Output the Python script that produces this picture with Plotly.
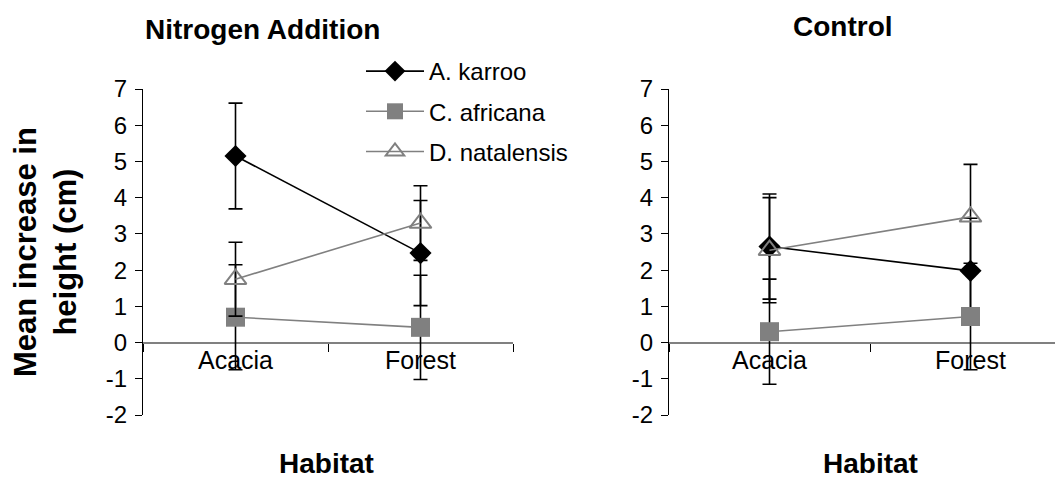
import plotly.graph_objects as go

# ---------------- data ----------------
habitats = ["Acacia", "Forest"]
species = ["A. karroo", "C. africana", "D. natalensis"]

nitrogen_means = {
    "A. karroo": [5.15, 2.47],
    "C. africana": [0.70, 0.42],
    "D. natalensis": [1.75, 3.30],
}
nitrogen_err = {
    "A. karroo": [1.46, 1.45],
    "C. africana": [1.45, 1.44],
    "D. natalensis": [1.02, 1.03],
}
control_means = {
    "A. karroo": [2.65, 1.98],
    "C. africana": [0.30, 0.72],
    "D. natalensis": [2.55, 3.47],
}
control_err = {
    "A. karroo": [1.45, 1.45],
    "C. africana": [1.45, 1.47],
    "D. natalensis": [1.45, 1.45],
}
y_ticks = [-2, -1, 0, 1, 2, 3, 4, 5, 6, 7]
y_tick_text = ["-2", "-1", "0", "1", "2", "3", "4", "5", "6", "7"]

# ---------------- styles ----------------
FONT = "Arial, Liberation Sans, sans-serif"
GRAY = "#808080"
styles = {
    "A. karroo": dict(line=dict(color="black", width=1.6),
                      marker=dict(symbol="diamond", size=17, color="black")),
    "C. africana": dict(line=dict(color=GRAY, width=1.6),
                        marker=dict(symbol="square", size=19, color=GRAY)),
    "D. natalensis": dict(line=dict(color=GRAY, width=1.6),
                          marker=dict(symbol="triangle-up-open", size=19, color=GRAY,
                                      line=dict(color=GRAY, width=2))),
}

fig = go.Figure()

panels = [("x", "y", nitrogen_means, nitrogen_err, True),
          ("x2", "y2", control_means, control_err, False)]
for xa, ya, means, errs, show in panels:
    for sp in species:
        st = styles[sp]
        fig.add_trace(go.Scatter(
            x=habitats, y=means[sp], name=sp, mode="lines+markers",
            xaxis=xa, yaxis=ya, line=st["line"], marker=st["marker"],
            error_y=dict(type="data", array=errs[sp], visible=True,
                         color="black", thickness=1.6, width=7),
            showlegend=show, legendgroup=sp, cliponaxis=False,
        ))

W, H = 1063, 482
OFF = 8  # page body margin offset


def fx(p):
    return (p - OFF) / W


def fy(p):
    return 1 - (p - OFF) / H


y_dom = [fy(415), fy(89)]
ymin, ymax = min(y_ticks), max(y_ticks)
zero_pos = y_dom[0] + (0 - ymin) / (ymax - ymin) * (y_dom[1] - y_dom[0])


def yaxis_cfg(anchor):
    return dict(domain=y_dom, range=[ymin, ymax], tickvals=y_ticks, ticktext=y_tick_text,
                anchor=anchor, automargin=False,
                showgrid=False, zeroline=True, zerolinecolor=GRAY, zerolinewidth=1.5,
                showline=True, linecolor="black", linewidth=1,
                ticks="outside", ticklen=7, tickcolor="black", tickwidth=1,
                ticklabelstandoff=3,
                tickfont=dict(family=FONT, size=24, color="black"))


def xaxis_cfg(dom, rng):
    return dict(domain=dom, range=rng, type="category", anchor="free", automargin=False,
                position=zero_pos, showgrid=False, zeroline=False, showline=False,
                ticks="outside", ticklen=8, tickcolor="black", tickwidth=1,
                tickson="boundaries",
                tickfont=dict(family=FONT, size=25, color="black"))


def label(text, cx, cy, size=28, angle=0):
    return dict(text=text, x=fx(cx), y=fy(cy), xref="paper", yref="paper",
                showarrow=False, textangle=angle, font=dict(family=FONT, size=size, color="black"),
                xanchor="center", yanchor="middle")


fig.update_layout(
    template="none",
    width=W, height=H, autosize=False,
    margin=dict(l=0, r=0, t=0, b=0, pad=0),
    paper_bgcolor="white", plot_bgcolor="white",
    font=dict(family=FONT, color="black"),
    xaxis=xaxis_cfg([fx(143), fx(513)], [-0.5, 1.5]),
    yaxis=yaxis_cfg("x"),
    xaxis2=xaxis_cfg([fx(669), 1.0], [-0.5, 1.5]),
    yaxis2=yaxis_cfg("x2"),
    legend=dict(x=fx(361), y=fy(49), xanchor="left", yanchor="top",
                font=dict(family=FONT, size=24, color="black"),
                bgcolor="rgba(0,0,0,0)", tracegroupgap=6, itemwidth=58),
    annotations=[
        label("<b>Nitrogen Addition</b>", 262, 30),
        label("<b>Control</b>", 843, 27),
        label("<b>Mean increase in<br>height (cm)</b>", 45, 252, size=31, angle=-90),
        label("<b>Habitat</b>", 326, 463),
        label("<b>Habitat</b>", 870, 463),
    ],
)

fig.write_html("out.html")
